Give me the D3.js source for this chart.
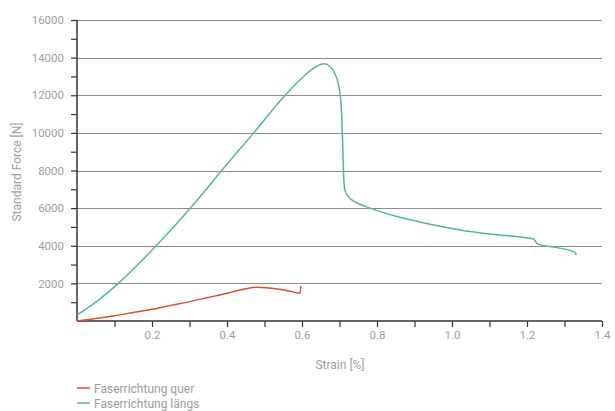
<!DOCTYPE html>
<html><head><meta charset="utf-8">
<script src="https://cdn.jsdelivr.net/npm/d3@7"></script>
<style>body{margin:0;background:#fff}svg{display:block}text{font-family:Roboto,"DejaVu Sans Condensed",sans-serif}</style>
</head><body><svg id="c" width="615" height="411"></svg>
<script>
const seriesNames = ["Faserrichtung quer", "Faserrichtung längs"];
const querStrain = [0, 0.05, 0.1, 0.15, 0.2, 0.25, 0.3, 0.35, 0.4, 0.43, 0.455, 0.48, 0.505, 0.535, 0.565, 0.595, 0.597];
const querForce  = [0, 130, 280, 450, 620, 830, 1030, 1250, 1470, 1620, 1730, 1790, 1770, 1700, 1600, 1480, 1860];
const laengsStrain = [0, 0.05, 0.11, 0.16, 0.211, 0.26, 0.302, 0.3285, 0.386, 0.473, 0.555, 0.595, 0.631, 0.659, 0.675, 0.689, 0.700, 0.706, 0.709, 0.711, 0.713, 0.716, 0.722, 0.73, 0.745, 0.782, 0.853, 0.942, 1.022, 1.1, 1.217, 1.228, 1.28, 1.329, 1.331];
const laengsForce  = [320, 1000, 2000, 2950, 4000, 5050, 6000, 6610, 8000, 10040, 12000, 12820, 13440, 13670, 13530, 13090, 12290, 10870, 9100, 7800, 7100, 6850, 6650, 6480, 6300, 6000, 5550, 5140, 4840, 4620, 4360, 4100, 3900, 3650, 3510];
const yTicks = [2000, 4000, 6000, 8000, 10000, 12000, 14000, 16000];
const xTicks = [0.2, 0.4, 0.6, 0.8, 1.0, 1.2, 1.4];
const colors = ["#d9502f", "#4db89c"];

const svg = d3.select("#c");
const x = d3.scaleLinear().domain([0, 1.4]).range([77, 602]);
const y = d3.scaleLinear().domain([0, 16000]).range([321, 20]);
const labelColor = "#9d9d9d";

// gridlines
svg.append("g").selectAll("line").data(yTicks).join("line")
  .attr("x1", x(0)).attr("x2", x(1.4))
  .attr("y1", d => Math.round(y(d)) + 0.5).attr("y2", d => Math.round(y(d)) + 0.5)
  .attr("stroke", "#958a82").attr("stroke-width", 1);

// y axis
const yAxis = d3.axisLeft(y).tickValues(d3.range(1000, 16001, 1000)).tickSize(6)
  .tickFormat(d => yTicks.includes(d) ? d : "");
const gy = svg.append("g").attr("transform", `translate(${x(0)},0)`).call(yAxis);
gy.select(".domain").attr("stroke", "#333").attr("stroke-width", 1.5).attr("d", `M0,${y(16000)}V${y(0)}`);
gy.selectAll(".tick line").attr("stroke", "#333").attr("stroke-width", 1.2);
gy.selectAll(".tick text").attr("fill", labelColor).style("font-size", "11.5px").attr("x", -13);

// x axis
const xAxis = d3.axisBottom(x).tickValues(d3.range(1, 15).map(i => i / 10)).tickSize(6)
  .tickFormat(d => xTicks.some(t => Math.abs(t - d) < 1e-9) ? d3.format(".1f")(d) : "");
const gx = svg.append("g").attr("transform", `translate(0,${y(0)})`).call(xAxis);
gx.select(".domain").attr("stroke", "#333").attr("stroke-width", 1.5).attr("d", `M${x(0)},0H${x(1.4)}`);
gx.selectAll(".tick line").attr("stroke", "#333").attr("stroke-width", 1.2);
gx.selectAll(".tick text").attr("fill", labelColor).style("font-size", "11.5px").attr("y", 10);

// lines
const line = d3.line().x(d => x(d[0])).y(d => y(d[1])).curve(d3.curveMonotoneX);
const data = [d3.zip(querStrain, querForce), d3.zip(laengsStrain, laengsForce)];
svg.append("g").selectAll("path").data(data).join("path")
  .attr("d", line).attr("fill", "none")
  .attr("stroke", (d, i) => colors[i]).attr("stroke-width", 1.5);

// axis titles
svg.append("text").attr("transform", "translate(21,172) rotate(-90)")
  .attr("text-anchor", "middle").attr("fill", labelColor).style("font-size", "12px")
  .text("Standard Force [N]");
svg.append("text").attr("x", 340).attr("y", 369).attr("text-anchor", "middle")
  .attr("fill", labelColor).style("font-size", "12px").text("Strain [%]");

// legend
const lg = svg.append("g").selectAll("g").data(seriesNames).join("g")
  .attr("transform", (d, i) => `translate(77,${388 + i * 15})`);
lg.append("line").attr("x1", 0).attr("x2", 13).attr("stroke", (d, i) => colors[i]).attr("stroke-width", 1.5);
lg.append("text").attr("x", 17).attr("y", 4.5).attr("fill", labelColor).style("font-size", "12px").text(d => d);
</script></body></html>
